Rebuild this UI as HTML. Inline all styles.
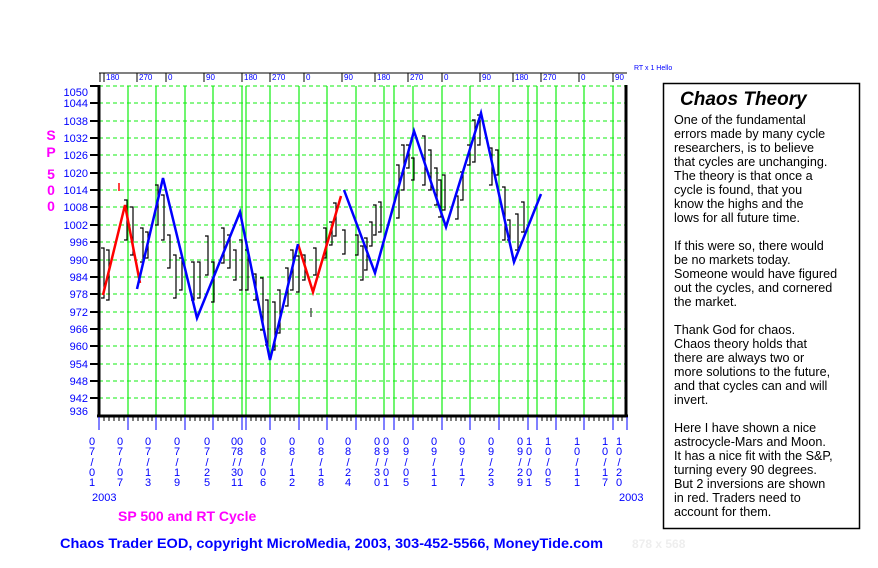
<!DOCTYPE html>
<html><head><meta charset="utf-8"><style>
body{margin:0;background:#fff;width:878px;height:568px;overflow:hidden;}
svg{display:block;font-family:"Liberation Sans",Arial,sans-serif;}
</style></head><body>
<svg width="878" height="568" viewBox="0 0 878 568" xmlns="http://www.w3.org/2000/svg">
<g stroke="#11ee11" stroke-width="1" stroke-dasharray="4,3">
<line x1="99" y1="86" x2="626" y2="86"/>
<line x1="99" y1="103" x2="626" y2="103"/>
<line x1="99" y1="121" x2="626" y2="121"/>
<line x1="99" y1="138" x2="626" y2="138"/>
<line x1="99" y1="155" x2="626" y2="155"/>
<line x1="99" y1="173" x2="626" y2="173"/>
<line x1="99" y1="190" x2="626" y2="190"/>
<line x1="99" y1="207" x2="626" y2="207"/>
<line x1="99" y1="225" x2="626" y2="225"/>
<line x1="99" y1="242" x2="626" y2="242"/>
<line x1="99" y1="260" x2="626" y2="260"/>
<line x1="99" y1="277" x2="626" y2="277"/>
<line x1="99" y1="294" x2="626" y2="294"/>
<line x1="99" y1="312" x2="626" y2="312"/>
<line x1="99" y1="329" x2="626" y2="329"/>
<line x1="99" y1="346" x2="626" y2="346"/>
<line x1="99" y1="364" x2="626" y2="364"/>
<line x1="99" y1="381" x2="626" y2="381"/>
<line x1="99" y1="398" x2="626" y2="398"/>
</g>
<g stroke="#11ee11" stroke-width="1.2">
<line x1="128" y1="86" x2="128" y2="416"/><line x1="156" y1="86" x2="156" y2="416"/>
<line x1="185" y1="86" x2="185" y2="416"/><line x1="213" y1="86" x2="213" y2="416"/>
<line x1="242" y1="86" x2="242" y2="416"/><line x1="246" y1="86" x2="246" y2="416"/>
<line x1="270" y1="86" x2="270" y2="416"/><line x1="299" y1="86" x2="299" y2="416"/>
<line x1="327" y1="86" x2="327" y2="416"/><line x1="356" y1="86" x2="356" y2="416"/>
<line x1="384" y1="86" x2="384" y2="416"/><line x1="394" y1="86" x2="394" y2="416"/>
<line x1="413" y1="86" x2="413" y2="416"/><line x1="442" y1="86" x2="442" y2="416"/>
<line x1="470" y1="86" x2="470" y2="416"/><line x1="499" y1="86" x2="499" y2="416"/>
<line x1="528" y1="86" x2="528" y2="416"/><line x1="537" y1="86" x2="537" y2="416"/>
<line x1="556" y1="86" x2="556" y2="416"/><line x1="584" y1="86" x2="584" y2="416"/>
<line x1="613" y1="86" x2="613" y2="416"/>
</g>
<g stroke="#000" stroke-width="3" fill="none">
<line x1="99" y1="85" x2="99" y2="417"/>
<line x1="97" y1="416" x2="628" y2="416"/>
<line x1="626" y1="85" x2="626" y2="417"/>
</g>
<g stroke="#000" stroke-width="2">
<line x1="90" y1="86" x2="99" y2="86"/><line x1="90" y1="103" x2="99" y2="103"/><line x1="90" y1="121" x2="99" y2="121"/>
<line x1="90" y1="138" x2="99" y2="138"/><line x1="90" y1="155" x2="99" y2="155"/><line x1="90" y1="173" x2="99" y2="173"/>
<line x1="90" y1="190" x2="99" y2="190"/><line x1="90" y1="207" x2="99" y2="207"/><line x1="90" y1="225" x2="99" y2="225"/>
<line x1="90" y1="242" x2="99" y2="242"/><line x1="90" y1="260" x2="99" y2="260"/><line x1="90" y1="277" x2="99" y2="277"/>
<line x1="90" y1="294" x2="99" y2="294"/><line x1="90" y1="312" x2="99" y2="312"/><line x1="90" y1="329" x2="99" y2="329"/>
<line x1="90" y1="346" x2="99" y2="346"/><line x1="90" y1="364" x2="99" y2="364"/><line x1="90" y1="381" x2="99" y2="381"/>
<line x1="90" y1="398" x2="99" y2="398"/>
</g>
<g fill="#0000ff" font-size="11" text-anchor="end">
<text x="88" y="96">1050</text><text x="88" y="107">1044</text><text x="88" y="125">1038</text>
<text x="88" y="142">1032</text><text x="88" y="159">1026</text><text x="88" y="177">1020</text>
<text x="88" y="194">1014</text><text x="88" y="211">1008</text><text x="88" y="229">1002</text>
<text x="88" y="246">996</text><text x="88" y="264">990</text><text x="88" y="281">984</text>
<text x="88" y="298">978</text><text x="88" y="316">972</text><text x="88" y="333">966</text>
<text x="88" y="350">960</text><text x="88" y="368">954</text><text x="88" y="385">948</text>
<text x="88" y="402">942</text><text x="88" y="415">936</text>
</g>
<g fill="#ff00ff" font-size="14" font-weight="bold" text-anchor="middle">
<text x="51" y="140">S</text><text x="51" y="157">P</text><text x="51" y="179">5</text>
<text x="51" y="195">0</text><text x="51" y="211">0</text>
</g>
<path stroke="#000" stroke-width="1" d="M104 416v5M109 416v5M114 416v5M119 416v5M124 416v5M133 416v5M138 416v5M143 416v5M148 416v5M152 416v5M161 416v5M166 416v5M171 416v5M176 416v5M181 416v5M190 416v5M195 416v5M200 416v5M205 416v5M209 416v5M218 416v5M223 416v5M228 416v5M233 416v5M237 416v5M251 416v5M256 416v5M261 416v5M265 416v5M275 416v5M280 416v5M285 416v5M290 416v5M294 416v5M304 416v5M309 416v5M314 416v5M318 416v5M322 416v5M332 416v5M337 416v5M342 416v5M347 416v5M351 416v5M361 416v5M366 416v5M370 416v5M375 416v5M379 416v5M399 416v5M404 416v5M408 416v5M418 416v5M423 416v5M428 416v5M432 416v5M437 416v5M447 416v5M451 416v5M456 416v5M461 416v5M465 416v5M475 416v5M480 416v5M485 416v5M490 416v5M494 416v5M504 416v5M509 416v5M514 416v5M518 416v5M523 416v5M542 416v5M547 416v5M551 416v5M561 416v5M566 416v5M570 416v5M575 416v5M580 416v5M589 416v5M594 416v5M599 416v5M604 416v5M608 416v5M618 416v5M622 416v5"/>
<g stroke="#0000ff" stroke-width="1">
<line x1="99" y1="417" x2="99" y2="430"/><line x1="128" y1="417" x2="128" y2="430"/><line x1="156" y1="417" x2="156" y2="430"/>
<line x1="185" y1="417" x2="185" y2="430"/><line x1="213" y1="417" x2="213" y2="430"/><line x1="242" y1="417" x2="242" y2="430"/>
<line x1="246" y1="417" x2="246" y2="430"/><line x1="270" y1="417" x2="270" y2="430"/><line x1="299" y1="417" x2="299" y2="430"/>
<line x1="327" y1="417" x2="327" y2="430"/><line x1="356" y1="417" x2="356" y2="430"/><line x1="384" y1="417" x2="384" y2="430"/>
<line x1="394" y1="417" x2="394" y2="430"/><line x1="413" y1="417" x2="413" y2="430"/><line x1="442" y1="417" x2="442" y2="430"/>
<line x1="470" y1="417" x2="470" y2="430"/><line x1="499" y1="417" x2="499" y2="430"/><line x1="528" y1="417" x2="528" y2="430"/>
<line x1="537" y1="417" x2="537" y2="430"/><line x1="556" y1="417" x2="556" y2="430"/><line x1="584" y1="417" x2="584" y2="430"/>
<line x1="613" y1="417" x2="613" y2="430"/><line x1="627" y1="417" x2="627" y2="430"/>
</g>
<g fill="#0000ff" font-size="11" text-anchor="middle">
<text x="92" y="445">0</text><text x="92" y="455">7</text><text x="92" y="466">/</text><text x="92" y="476">0</text><text x="92" y="486">1</text>
<text x="120" y="445">0</text><text x="120" y="455">7</text><text x="120" y="466">/</text><text x="120" y="476">0</text><text x="120" y="486">7</text>
<text x="148" y="445">0</text><text x="148" y="455">7</text><text x="148" y="466">/</text><text x="148" y="476">1</text><text x="148" y="486">3</text>
<text x="177" y="445">0</text><text x="177" y="455">7</text><text x="177" y="466">/</text><text x="177" y="476">1</text><text x="177" y="486">9</text>
<text x="207" y="445">0</text><text x="207" y="455">7</text><text x="207" y="466">/</text><text x="207" y="476">2</text><text x="207" y="486">5</text>
<text x="234" y="445">0</text><text x="234" y="455">7</text><text x="234" y="466">/</text><text x="234" y="476">3</text><text x="234" y="486">1</text>
<text x="240" y="445">0</text><text x="240" y="455">8</text><text x="240" y="466">/</text><text x="240" y="476">0</text><text x="240" y="486">1</text>
<text x="263" y="445">0</text><text x="263" y="455">8</text><text x="263" y="466">/</text><text x="263" y="476">0</text><text x="263" y="486">6</text>
<text x="292" y="445">0</text><text x="292" y="455">8</text><text x="292" y="466">/</text><text x="292" y="476">1</text><text x="292" y="486">2</text>
<text x="321" y="445">0</text><text x="321" y="455">8</text><text x="321" y="466">/</text><text x="321" y="476">1</text><text x="321" y="486">8</text>
<text x="348" y="445">0</text><text x="348" y="455">8</text><text x="348" y="466">/</text><text x="348" y="476">2</text><text x="348" y="486">4</text>
<text x="377" y="445">0</text><text x="377" y="455">8</text><text x="377" y="466">/</text><text x="377" y="476">3</text><text x="377" y="486">0</text>
<text x="386" y="445">0</text><text x="386" y="455">9</text><text x="386" y="466">/</text><text x="386" y="476">0</text><text x="386" y="486">1</text>
<text x="406" y="445">0</text><text x="406" y="455">9</text><text x="406" y="466">/</text><text x="406" y="476">0</text><text x="406" y="486">5</text>
<text x="434" y="445">0</text><text x="434" y="455">9</text><text x="434" y="466">/</text><text x="434" y="476">1</text><text x="434" y="486">1</text>
<text x="462" y="445">0</text><text x="462" y="455">9</text><text x="462" y="466">/</text><text x="462" y="476">1</text><text x="462" y="486">7</text>
<text x="491" y="445">0</text><text x="491" y="455">9</text><text x="491" y="466">/</text><text x="491" y="476">2</text><text x="491" y="486">3</text>
<text x="520" y="445">0</text><text x="520" y="455">9</text><text x="520" y="466">/</text><text x="520" y="476">2</text><text x="520" y="486">9</text>
<text x="529" y="445">1</text><text x="529" y="455">0</text><text x="529" y="466">/</text><text x="529" y="476">0</text><text x="529" y="486">1</text>
<text x="548" y="445">1</text><text x="548" y="455">0</text><text x="548" y="466">/</text><text x="548" y="476">0</text><text x="548" y="486">5</text>
<text x="577" y="445">1</text><text x="577" y="455">0</text><text x="577" y="466">/</text><text x="577" y="476">1</text><text x="577" y="486">1</text>
<text x="605" y="445">1</text><text x="605" y="455">0</text><text x="605" y="466">/</text><text x="605" y="476">1</text><text x="605" y="486">7</text>
<text x="619" y="445">1</text><text x="619" y="455">0</text><text x="619" y="466">/</text><text x="619" y="476">2</text><text x="619" y="486">0</text>
</g>
<g fill="#0000ff" font-size="11"><text x="92" y="501">2003</text><text x="619" y="501">2003</text></g>
<text x="118" y="521" fill="#ff00ff" font-size="14" font-weight="bold">SP 500 and RT Cycle</text>
<line x1="99" y1="73" x2="627" y2="73" stroke="#000" stroke-width="1"/>
<g stroke="#000" stroke-width="1">
<line x1="100" y1="73" x2="100" y2="82"/><line x1="104" y1="73" x2="104" y2="82"/><line x1="137" y1="73" x2="137" y2="82"/>
<line x1="166" y1="73" x2="166" y2="82"/><line x1="204" y1="73" x2="204" y2="82"/><line x1="242" y1="73" x2="242" y2="82"/>
<line x1="270" y1="73" x2="270" y2="82"/><line x1="304" y1="73" x2="304" y2="82"/><line x1="342" y1="73" x2="342" y2="82"/>
<line x1="375" y1="73" x2="375" y2="82"/><line x1="408" y1="73" x2="408" y2="82"/><line x1="442" y1="73" x2="442" y2="82"/>
<line x1="480" y1="73" x2="480" y2="82"/><line x1="513" y1="73" x2="513" y2="82"/><line x1="541" y1="73" x2="541" y2="82"/>
<line x1="579" y1="73" x2="579" y2="82"/><line x1="613" y1="73" x2="613" y2="82"/>
</g>
<g fill="#0000ff" font-size="8">
<text x="106" y="80">180</text><text x="139" y="80">270</text><text x="168" y="80">0</text><text x="206" y="80">90</text>
<text x="244" y="80">180</text><text x="272" y="80">270</text><text x="306" y="80">0</text><text x="344" y="80">90</text>
<text x="377" y="80">180</text><text x="410" y="80">270</text><text x="444" y="80">0</text><text x="482" y="80">90</text>
<text x="515" y="80">180</text><text x="543" y="80">270</text><text x="581" y="80">0</text><text x="615" y="80">90</text>
<text x="634" y="70" font-size="7">RT x 1 Hello</text>
</g>
<!-- bracket bars -->
<path stroke="#000" stroke-width="1.2" fill="none" d="
M101 248H104V298H101M106 250H109V300H106
M124 200H127V240H124M130 207H133V255H130
M140 228H143V262H140M145 232H148V258H145
M155 185H158V225H155M161 195H164V240H161
M167 235H170V268H167M173 255H176V298H173
M179 258H182V290H179M191 262H194V300H191
M197 262H200V298H197M205 236H208V275H205
M211 262H214V302H211M221 228H224V263H221
M227 235H230V268H227M233 250H236V280H233
M239 240H242V290H239M245 250H248V290H245
M253 274H256V300H253M260 278H263V330H260
M265 300H268V345H265M272 302H275V350H272
M277 290H280V333H277M285 268H288V306H285
M290 250H293V290H290M296 256H299V292H296
M302 255H305V280H302M313 248H316V275H313
M323 228H326V258H323M329 222H332V245H329
M333 203H336V236H333M342 230H345V254H342
M355 235H358V255H355M360 246H363V280H360
M364 238H367V270H364M369 222H372V246H369
M373 205H376V235H373M378 202H381V232H378
M396 165H399V218H396M401 145H404V190H401
M406 145H409V168H406M411 158H414V180H411
M422 136H425V185H422M428 150H431V190H428
M434 168H437V205H434M438 180H441V217H438
M442 175H445V210H442M455 196H458V219H455
M460 172H463V200H460M467 145H470V165H467
M472 120H475V162H472M477 115H480V145H477
M489 148H492V185H489M495 150H498V175H495
M502 187H505V240H502M507 220H510V240H507
M515 214H518V250H515M521 202H524V232H521"/>
<polyline fill="none" stroke="#ff0000" stroke-width="2.5" points="103,295 125,205 140,283"/>
<polyline fill="none" stroke="#ff0000" stroke-width="2.5" points="298,244 313,292 341,196"/>
<polyline fill="none" stroke="#0000ff" stroke-width="2.5" points="137,289 163,178 197,318 240,212 270,360 298,244"/>
<polyline fill="none" stroke="#0000ff" stroke-width="2.5" points="344,190 375,273 414,131 446,227 481,113 514,262 541,194"/>
<line x1="119" y1="183" x2="119" y2="191" stroke="#ff0000" stroke-width="1.5"/>
<line x1="311" y1="308" x2="311" y2="317" stroke="#555" stroke-width="1.5"/>
<rect x="663.5" y="83.5" width="196" height="445" fill="#fff" stroke="#000" stroke-width="1.5"/>
<text x="680" y="105" font-size="19" font-weight="bold" font-style="italic">Chaos Theory</text>
<g font-size="12.6" fill="#000">
<text x="674" y="124">One of the fundamental</text>
<text x="674" y="138">errors made by many cycle</text>
<text x="674" y="152">researchers, is to believe</text>
<text x="674" y="166">that cycles are unchanging.</text>
<text x="674" y="180">The theory is that once a</text>
<text x="674" y="194">cycle is found, that you</text>
<text x="674" y="208">know the highs and the</text>
<text x="674" y="222">lows for all future time.</text>
<text x="674" y="250">If this were so, there would</text>
<text x="674" y="264">be no markets today.</text>
<text x="674" y="278">Someone would have figured</text>
<text x="674" y="292">out the cycles, and cornered</text>
<text x="674" y="306">the market.</text>
<text x="674" y="334">Thank God for chaos.</text>
<text x="674" y="348">Chaos theory holds that</text>
<text x="674" y="362">there are always two or</text>
<text x="674" y="376">more solutions to the future,</text>
<text x="674" y="390">and that cycles can and will</text>
<text x="674" y="404">invert.</text>
<text x="674" y="432">Here I have shown a nice</text>
<text x="674" y="446">astrocycle-Mars and Moon.</text>
<text x="674" y="460">It has a nice fit with the S&amp;P,</text>
<text x="674" y="474">turning every 90 degrees.</text>
<text x="674" y="488">But 2 inversions are shown</text>
<text x="674" y="502">in red. Traders need to</text>
<text x="674" y="516">account for them.</text>
</g>
<text x="60" y="548" fill="#0000ff" font-size="14" font-weight="bold" textLength="543" lengthAdjust="spacingAndGlyphs">Chaos Trader EOD, copyright MicroMedia, 2003, 303-452-5566, MoneyTide.com</text>
<text x="632" y="548" fill="#eeeeee" font-size="12" font-weight="bold">878 x 568</text>
</svg>
</body></html>
